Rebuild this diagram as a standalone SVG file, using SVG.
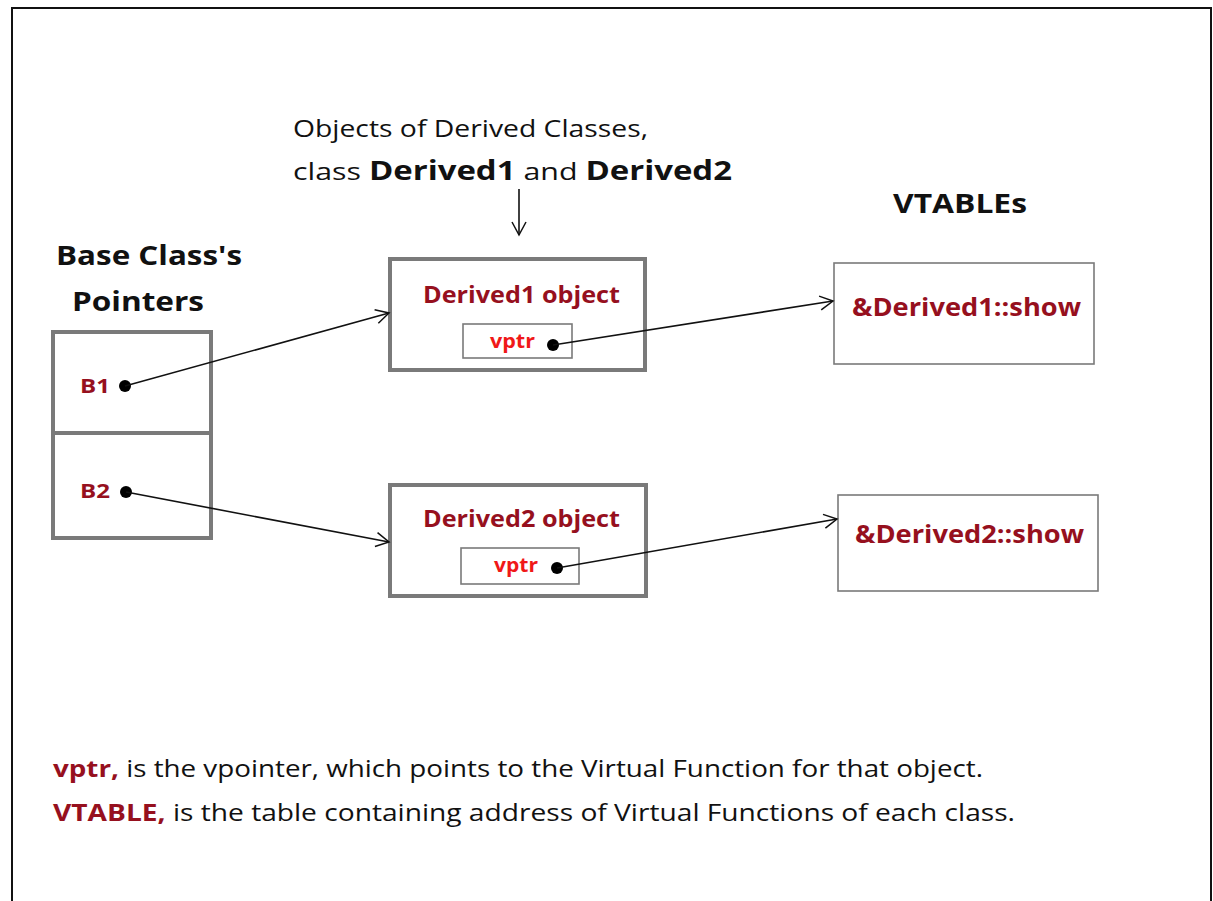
<svg xmlns="http://www.w3.org/2000/svg" width="1213" height="901" viewBox="0 0 1213 901">
<style>
.lbl{font-family:"Open Sans","Liberation Sans",sans-serif;}
.b{font-weight:bold;}
.dr{fill:#96101e;}
.red{fill:#f01818;}
.blk{fill:#111;}
.thick{fill:#fff;stroke:#7a7a7a;stroke-width:4;}
.thin{fill:#fff;stroke:#7a7a7a;stroke-width:1.6;}
.conn{stroke:#111;stroke-width:1.6;fill:none;}
</style>
<defs>
<marker id="arr" markerUnits="userSpaceOnUse" markerWidth="20" markerHeight="20" refX="14" refY="8" orient="auto">
<path d="M1,1 L14,8 L1,15" fill="none" stroke="#111" stroke-width="1.5"/>
</marker>
</defs>
<rect x="0" y="0" width="1213" height="901" fill="#fff"/>
<rect x="12" y="8" width="1199" height="910" fill="none" stroke="#111" stroke-width="2"/>

<g id="title">
<text class="lbl blk" x="293" y="137" font-size="24" textLength="355" lengthAdjust="spacingAndGlyphs">Objects of Derived Classes,</text>
<text class="lbl blk" x="293" y="180" font-size="24" textLength="439" lengthAdjust="spacingAndGlyphs">class <tspan class="b" font-size="26">Derived1</tspan> and <tspan class="b" font-size="26">Derived2</tspan></text>
</g>

<g id="base-title">
<text class="lbl b blk" x="56" y="265" font-size="26" textLength="186" lengthAdjust="spacingAndGlyphs">Base Class's</text>
<text class="lbl b blk" x="72" y="311" font-size="26" textLength="132" lengthAdjust="spacingAndGlyphs">Pointers</text>
</g>

<g id="vtables-title">
<text class="lbl b blk" x="893" y="213" font-size="26" textLength="134" lengthAdjust="spacingAndGlyphs">VTABLEs</text>
</g>

<g id="base-pointers">
<rect class="thick" x="53" y="332" width="158" height="206"/>
<line x1="53" y1="433" x2="211" y2="433" stroke="#7a7a7a" stroke-width="4"/>
<text class="lbl b dr" x="80" y="393" font-size="20" textLength="30" lengthAdjust="spacingAndGlyphs">B1</text>
<circle cx="125" cy="386" r="6" fill="#000"/>
<text class="lbl b dr" x="80" y="498" font-size="20" textLength="30" lengthAdjust="spacingAndGlyphs">B2</text>
<circle cx="126" cy="492" r="6" fill="#000"/>
</g>

<g id="derived1">
<rect class="thick" x="390" y="259" width="255" height="111"/>
<text class="lbl b dr" x="423" y="303" font-size="23" textLength="197" lengthAdjust="spacingAndGlyphs">Derived1 object</text>
<rect class="thin" x="463" y="324" width="109" height="34"/>
<text class="lbl b red" x="490" y="348" font-size="19" textLength="45" lengthAdjust="spacingAndGlyphs">vptr</text>
<circle cx="553" cy="345" r="6" fill="#000"/>
</g>

<g id="derived2">
<rect class="thick" x="390" y="485" width="256" height="111"/>
<text class="lbl b dr" x="423" y="527" font-size="23" textLength="197" lengthAdjust="spacingAndGlyphs">Derived2 object</text>
<rect class="thin" x="461" y="548" width="118" height="36"/>
<text class="lbl b red" x="494" y="572" font-size="19" textLength="44" lengthAdjust="spacingAndGlyphs">vptr</text>
<circle cx="557" cy="568" r="6" fill="#000"/>
</g>

<g id="vtable1">
<rect class="thin" x="834" y="263" width="260" height="101"/>
<text class="lbl b dr" x="852" y="316" font-size="25" textLength="229" lengthAdjust="spacingAndGlyphs">&amp;Derived1::show</text>
</g>

<g id="vtable2">
<rect class="thin" x="838" y="495" width="260" height="96"/>
<text class="lbl b dr" x="855" y="543" font-size="25" textLength="229" lengthAdjust="spacingAndGlyphs">&amp;Derived2::show</text>
</g>

<g id="connectors">
<line class="conn" x1="519" y1="189" x2="519" y2="235" marker-end="url(#arr)"/>
<line class="conn" x1="125" y1="386" x2="389" y2="313" marker-end="url(#arr)"/>
<line class="conn" x1="126" y1="492" x2="389" y2="542" marker-end="url(#arr)"/>
<line class="conn" x1="553" y1="345" x2="833" y2="301" marker-end="url(#arr)"/>
<line class="conn" x1="557" y1="568" x2="837" y2="519" marker-end="url(#arr)"/>
</g>

<g id="notes">
<text class="lbl blk" x="53" y="777" font-size="23" textLength="930" lengthAdjust="spacingAndGlyphs"><tspan class="b dr">vptr,</tspan> is the vpointer, which points to the Virtual Function for that object.</text>
<text class="lbl blk" x="53" y="821" font-size="23" textLength="962" lengthAdjust="spacingAndGlyphs"><tspan class="b dr">VTABLE,</tspan> is the table containing address of Virtual Functions of each class.</text>
</g>
</svg>
